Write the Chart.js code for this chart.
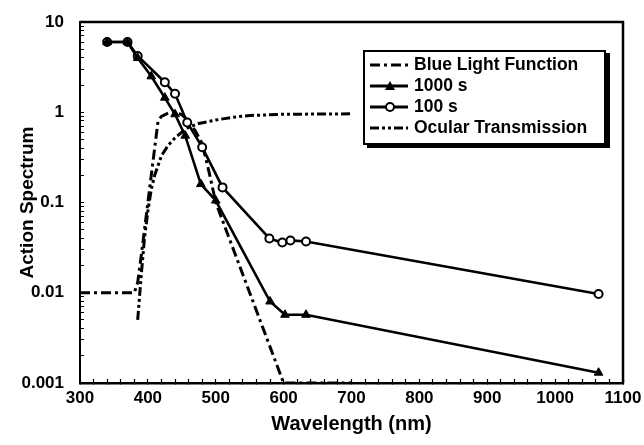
<!DOCTYPE html>
<html>
<head>
<meta charset="utf-8">
<script src="https://cdn.jsdelivr.net/npm/chart.js@4.4.1/dist/chart.umd.min.js"></script>
<style>
  html, body { margin: 0; padding: 0; background: #fff; }
  #wrap { position: relative; width: 644px; height: 445px; }
  #legend {
    position: absolute; left: 363px; top: 50px; width: 243px; height: 95px;
    border: 2px solid #000; box-shadow: 4px 3px 0 #000; background: #fff;
    box-sizing: border-box; padding-top: 2px;
    font: bold 17.5px "Liberation Sans", Arial, sans-serif; color: #000;
  }
  .row { display: flex; align-items: center; height: 21px; white-space: nowrap; }
  .row svg { margin-left: 5px; margin-right: 6px; flex: none; }
</style>
</head>
<body>
<div id="wrap">
  <canvas id="chart" width="644" height="445"></canvas>
  <div id="legend"></div>
</div>
<script>
// values (wavelength in nm, action spectrum, log scale)
const BLUE_NM  = [300, 380, 385, 390, 395, 400, 405, 410, 415, 420, 430, 440, 450, 460, 470, 480, 490, 500, 600, 700];
const BLUE_VAL = [0.01, 0.01, 0.013, 0.025, 0.05, 0.1, 0.2, 0.4, 0.8, 0.9, 0.98, 1.0, 0.94, 0.8, 0.62, 0.45, 0.22, 0.1, 0.001, 0.001];

const T1000_NM  = [340, 370, 385, 405, 425, 440, 455, 478, 500, 580, 602, 633, 1064];
const T1000_VAL = [6.0, 6.0, 4.0, 2.5, 1.45, 0.95, 0.55, 0.16, 0.105, 0.008, 0.0057, 0.0057, 0.0013];

const T100_NM  = [340, 370, 385, 425, 440, 458, 480, 510, 579, 598, 610, 633, 1064];
const T100_VAL = [6.0, 6.0, 4.2, 2.15, 1.6, 0.77, 0.41, 0.147, 0.04, 0.036, 0.038, 0.037, 0.0097];

const OCULAR_NM  = [385, 390, 395, 400, 405, 410, 420, 430, 440, 450, 460, 475, 500, 525, 550, 600, 700];
const OCULAR_VAL = [0.005, 0.015, 0.04, 0.08, 0.14, 0.2, 0.33, 0.43, 0.52, 0.6, 0.68, 0.75, 0.82, 0.88, 0.92, 0.95, 0.96];

const X_LABELS = ["300", "400", "500", "600", "700", "800", "900", "1000", "1100"];
const Y_LABELS = ["0.001", "0.01", "0.1", "1", "10"];
const SERIES_NAMES = ["Blue Light Function", "1000 s", "100 s", "Ocular Transmission"];

const FONT = "'Liberation Sans', Arial, sans-serif";
const pts = (xs, ys) => xs.map((x, i) => ({ x, y: ys[i] }));

const frame = {
  id: "frame",
  afterDatasetsDraw(c) {
    const { ctx, chartArea: a } = c;
    ctx.save();
    ctx.strokeStyle = "#000";
    ctx.lineWidth = 2.5;
    ctx.beginPath();
    ctx.moveTo(a.left, a.top);
    ctx.lineTo(a.right, a.top);
    ctx.lineTo(a.right, a.bottom);
    ctx.stroke();
    ctx.restore();
  },
};

const base = { borderColor: "#000", backgroundColor: "#000", borderWidth: 2.6, tension: 0, showLine: true };

const datasets = [
  { ...base, label: SERIES_NAMES[0], data: pts(BLUE_NM, BLUE_VAL), borderDash: [10, 4, 3, 4], pointRadius: 0, borderWidth: 3, order: 3 },
  { ...base, label: SERIES_NAMES[1], data: pts(T1000_NM, T1000_VAL), pointStyle: "triangle", pointRadius: 5, pointBackgroundColor: "#000", pointBorderColor: "#000", pointBorderWidth: 1, order: 0 },
  { ...base, label: SERIES_NAMES[2], data: pts(T100_NM, T100_VAL), pointStyle: "circle", pointRadius: 4, pointBackgroundColor: "#fff", pointBorderColor: "#000", pointBorderWidth: 2, order: 1 },
  { ...base, label: SERIES_NAMES[3], data: pts(OCULAR_NM, OCULAR_VAL), borderDash: [9, 3, 3, 3, 3, 3], pointRadius: 0, borderWidth: 3, order: 2 },
];

const chart = new Chart(document.getElementById("chart"), {
  type: "scatter",
  data: { datasets },
  options: {
    responsive: false,
    animation: false,
    layout: { padding: { top: 22, right: 21, left: 0, bottom: 0 } },
    plugins: { legend: { display: false }, tooltip: { enabled: false } },
    scales: {
      x: {
        type: "linear", min: 300, max: 1100,
        afterBuildTicks: (s) => { s.ticks = []; for (let v = 300; v <= 1100; v += 20) s.ticks.push({ value: v }); },
        afterFit: (s) => { s.height = 62; s.paddingLeft = 0; s.paddingRight = 0; },
        ticks: {
          color: "#000", font: { family: FONT, size: 17, weight: "bold" }, padding: 9, maxRotation: 0, autoSkip: false,
          callback: (v) => (v % 100 === 0 ? X_LABELS[(v - 300) / 100] : ""),
        },
        grid: { drawOnChartArea: false, drawTicks: true, tickLength: -4, color: "#000", tickWidth: 1.2 },
        border: { color: "#000", width: 2.5 },
        title: { display: true, text: "Wavelength (nm)", color: "#000", font: { family: FONT, size: 20, weight: "bold" }, padding: { top: 0, bottom: 9 } },
      },
      y: {
        type: "logarithmic", min: 0.001, max: 10,
        afterBuildTicks: (s) => {
          s.ticks = [];
          for (let e = -3; e < 1; e++) for (let m = 1; m < 10; m++) s.ticks.push({ value: m * Math.pow(10, e) });
          s.ticks.push({ value: 10 });
        },
        afterFit: (s) => { s.width = 80; s.paddingTop = 0; s.paddingBottom = 0; },
        ticks: {
          color: "#000", font: { family: FONT, size: 17, weight: "bold" }, padding: 20, autoSkip: false,
          callback: (v) => { const e = Math.round(Math.log10(v)); return Math.abs(v - Math.pow(10, e)) < 1e-9 ? Y_LABELS[e + 3] : ""; },
        },
        grid: { drawOnChartArea: false, drawTicks: true, tickLength: -4, color: "#000", tickWidth: 1 },
        border: { color: "#000", width: 2 },
        title: { display: true, text: "Action Spectrum", color: "#000", font: { family: FONT, size: 19, weight: "bold" }, padding: { top: 16, bottom: 0 } },
      },
    },
  },
  plugins: [frame],
});

// html legend built from the datasets
const legendEl = document.getElementById("legend");
chart.data.datasets.forEach((ds) => {
  const row = document.createElement("div");
  row.className = "row";
  const dash = ds.borderDash ? ds.borderDash.join(",") : "none";
  let marker = "";
  if (ds.pointStyle === "triangle") marker = '<polygon points="20,3 25,12 15,12" fill="#000"/>';
  if (ds.pointStyle === "circle") marker = '<circle cx="20" cy="8" r="4" fill="#fff" stroke="#000" stroke-width="2"/>';
  row.innerHTML = `<svg width="38" height="16"><line x1="0" y1="8" x2="38" y2="8" stroke="#000" stroke-width="3" stroke-dasharray="${dash}"/>${marker}</svg><span>${ds.label}</span>`;
  legendEl.appendChild(row);
});
</script>
</body>
</html>
